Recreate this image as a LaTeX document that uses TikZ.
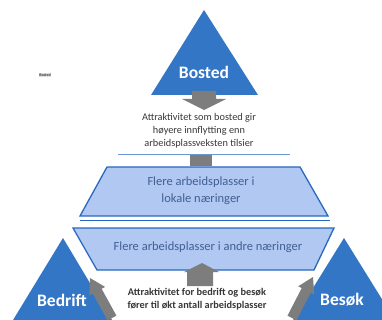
\documentclass[tikz,border=0pt]{standalone}
\usepackage{fontspec}
\setmainfont{Carlito}
\usetikzlibrary{arrows.meta}
\definecolor{triblue}{RGB}{52,118,198}
\definecolor{trapfill}{RGB}{176,200,242}
\definecolor{trapline}{RGB}{40,104,190}
\definecolor{traptext}{RGB}{65,95,145}
\definecolor{arrgray}{RGB}{125,125,125}
\definecolor{txtgray}{RGB}{55,55,55}
\tikzset{
  tri/.style={fill=triblue,draw=none},
  trap/.style={fill=trapfill,draw=trapline,line width=1.3pt},
  trilabel/.style={text=white,font=\fontsize{17.5}{19}\selectfont\bfseries},
  traplabel/.style={text=traptext,font=\fontsize{12.5}{17}\selectfont,align=center},
  note/.style={text=txtgray,font=\fontsize{10.3}{12.8}\selectfont,align=center},
  garrow/.style={fill=arrgray,draw=none}
}
\begin{document}
\begin{tikzpicture}[x=1pt,y=-1pt]
\useasboundingbox (0,0) rectangle (382,320);
\begin{scope}
\clip (0,0) rectangle (382,320);
% top triangle
\fill[tri] (204,10) -- (258,95) -- (151,95) -- cycle;
\node[trilabel] (bosted) at (204,72) {Bosted};
% bottom triangles
\fill[tri] (63,238) -- (115,325) -- (10,325) -- cycle;
\node[trilabel] (bedrift) at (62,300) {Bedrift};
\fill[tri] (344,238) -- (398,325) -- (290,325) -- cycle;
\node[trilabel] (besok) at (342,300) {Besøk};
\end{scope}
% tiny label at left
\node[text=txtgray,font=\fontsize{4}{4}\selectfont\bfseries,fill=black!12,inner sep=0.6pt] (small) at (45,75) {Bosted};
% down arrow under top triangle
\fill[garrow] (192,91) -- (216,91) -- (216,99) -- (226,99) -- (204,110) -- (182,99) -- (192,99) -- cycle;
% top note
\node[note] (note1) at (199,131) {Attraktivitet som bosted gir\\høyere innflytting enn\\arbeidsplassveksten tilsier};
\draw[trapline!70,line width=0.8pt] (118,154) -- (290,154);
% small down arrow into trapezoid 1
\fill[garrow] (190,155) -- (212,155) -- (212,166) -- (190,166) -- cycle;
% trapezoid 1
\draw[trap] (107,167) -- (300,167) -- (328,216) -- (80,216) -- cycle;
\draw[trapline,line width=1pt] (80,220) -- (330,220);
\node[traplabel] (lokale) at (201,191) {Flere arbeidsplasser i\\lokale næringer};
% trapezoid 2
\draw[trap] (73,228) -- (334,228) -- (314,270) -- (97,270) -- cycle;
\node[traplabel] (andre) at (208,247) {Flere arbeidsplasser i andre næringer};
% up arrow into trapezoid 2
\fill[garrow] (187,286) -- (213,286) -- (213,272) -- (219,272) -- (202,263) -- (184,272) -- (187,272) -- cycle;
% diagonal arrows
\fill[garrow] (90,278) -- (105.1,286.9) -- (101.6,288.8) -- (116.4,315.6) -- (107.6,320.4) -- (92.8,293.6) -- (89.3,295.5) -- cycle;
\fill[garrow] (313,277) -- (314.2,294.5) -- (310.7,292.7) -- (296.5,320.3) -- (287.5,315.7) -- (301.7,288.1) -- (298.2,286.3) -- cycle;
% bottom note
\node[note,font=\fontsize{10.3}{13}\selectfont\bfseries] (note2) at (197,299) {Attraktivitet for bedrift og besøk\\fører til økt antall arbeidsplasser};
\end{tikzpicture}
\end{document}
